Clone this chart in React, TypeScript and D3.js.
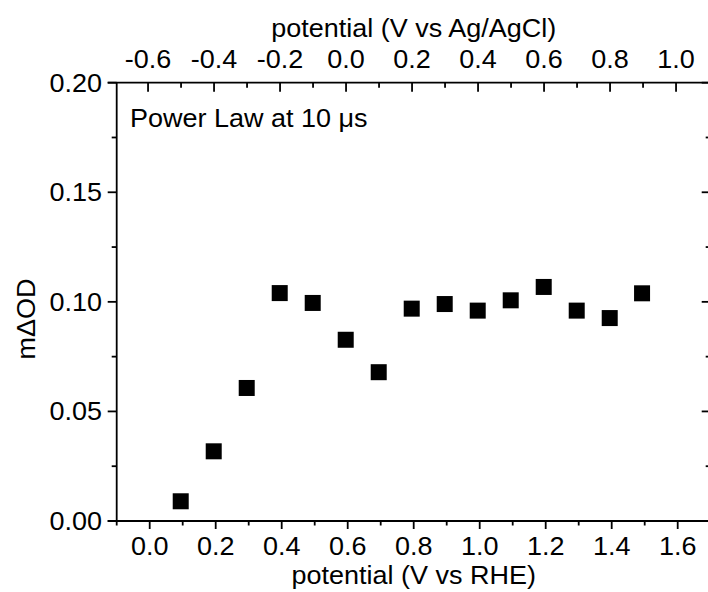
import React from "react";
import * as d3 from "d3";

// Data
const potentialRHE = [0.094, 0.194, 0.294, 0.394, 0.494, 0.594, 0.694, 0.794, 0.894, 0.994, 1.094, 1.194, 1.294, 1.394, 1.492];
const mDeltaOD = [0.009, 0.0318, 0.0607, 0.104, 0.0995, 0.0827, 0.0679, 0.0969, 0.099, 0.096, 0.1007, 0.1068, 0.096, 0.0926, 0.1039];
const bottomMajorTicks = [0.0, 0.2, 0.4, 0.6, 0.8, 1.0, 1.2, 1.4, 1.6];
const bottomMinorTicks = [-0.1, 0.1, 0.3, 0.5, 0.7, 0.9, 1.1, 1.3, 1.5, 1.7];
const topMajorTicks = [-0.6, -0.4, -0.2, 0.0, 0.2, 0.4, 0.6, 0.8, 1.0];
const topMinorTicks = [-0.5, -0.3, -0.1, 0.1, 0.3, 0.5, 0.7, 0.9, 1.1];
const yMajorTicks = [0.0, 0.05, 0.1, 0.15, 0.2];
const yMinorTicks = [0.025, 0.075, 0.125, 0.175];
const agAgClOffset = 0.595;

const W = 708;
const H = 592;
const left = 116.7;
const right = 710.7;
const top = 82.7;
const bottom = 521;
const FONT = "'Liberation Sans', Arial, sans-serif";
const SX = 1.08;
const FS = 25;

export default function App() {
  const x = d3.scaleLinear().domain([-0.1, 1.7]).range([left, right]);
  const xTop = d3.scaleLinear().domain([-0.1 - agAgClOffset, 1.7 - agAgClOffset]).range([left, right]);
  const y = d3.scaleLinear().domain([0, 0.2]).range([bottom, top]);
  const fmt1 = d3.format(".1f");
  const fmt2 = d3.format(".2f");
  const sq = 16;
  const sw = 1.8;

  const T = (props: { x: number; y: number; s: string; anchor?: string; sx?: number; fs?: number; rot?: number }) => (
    <text
      transform={`translate(${props.x},${props.y})${props.rot ? ` rotate(${props.rot})` : ""} scale(${props.sx ?? SX},1)`}
      textAnchor={props.anchor ?? "middle"}
      fontFamily={FONT}
      fontSize={props.fs ?? FS}
      fill="#000"
    >
      {props.s}
    </text>
  );

  return (
    <svg width={W} height={H} style={{ position: "absolute", left: 0, top: 0, display: "block", background: "#fff" }}>
      <rect x={0} y={0} width={W} height={H} fill="#fff" />
      {/* frame */}
      <g stroke="#000" strokeWidth={sw} fill="none">
        <line x1={left} x2={left} y1={top} y2={bottom} />
        <line x1={left - 9} x2={right} y1={bottom} y2={bottom} />
        <line x1={left - 9} x2={right} y1={top} y2={top} />
        <line x1={right} x2={right} y1={top} y2={bottom} />
        {/* bottom ticks */}
        {bottomMajorTicks.map((t) => (
          <line key={"bM" + t} x1={x(t)} x2={x(t)} y1={bottom} y2={bottom + 8} />
        ))}
        {bottomMinorTicks.map((t) => (
          <line key={"bm" + t} x1={x(t)} x2={x(t)} y1={bottom} y2={bottom + 4.5} />
        ))}
        {/* top ticks (inward) */}
        {topMajorTicks.map((t) => (
          <line key={"tM" + t} x1={xTop(t)} x2={xTop(t)} y1={top} y2={top + 9} />
        ))}
        {topMinorTicks.map((t) => (
          <line key={"tm" + t} x1={xTop(t)} x2={xTop(t)} y1={top} y2={top + 5} />
        ))}
        {/* left ticks (outward) */}
        {yMajorTicks.map((t) => (
          <line key={"lM" + t} x1={left - 9} x2={left} y1={y(t)} y2={y(t)} />
        ))}
        {yMinorTicks.map((t) => (
          <line key={"lm" + t} x1={left - 5} x2={left} y1={y(t)} y2={y(t)} />
        ))}
        {/* right ticks (inward) */}
        {yMajorTicks.map((t) => (
          <line key={"rM" + t} x1={right - 9} x2={right} y1={y(t)} y2={y(t)} />
        ))}
        {yMinorTicks.map((t) => (
          <line key={"rm" + t} x1={right - 5} x2={right} y1={y(t)} y2={y(t)} />
        ))}
      </g>

      {/* tick labels */}
      {bottomMajorTicks.map((t) => (
        <T key={"bl" + t} x={x(t)} y={555} s={fmt1(t)} />
      ))}
      {topMajorTicks.map((t) => (
        <T key={"tl" + t} x={xTop(t)} y={68} s={fmt1(t).replace("−", "-")} />
      ))}
      {yMajorTicks.map((t) => (
        <T key={"yl" + t} x={102} y={y(t) + 9} s={fmt2(t)} anchor="end" />
      ))}

      {/* axis titles */}
      <T x={(left + right) / 2} y={584} s="potential (V vs RHE)" />
      <T x={(left + right) / 2} y={37} s="potential (V vs Ag/AgCl)" />
      <T x={35} y={319} s="mΔOD" rot={-90} />

      {/* annotation */}
      <T x={130} y={127} s="Power Law at 10 μs" anchor="start" />

      {/* points */}
      {potentialRHE.map((p, i) => (
        <rect key={"pt" + i} x={x(p) - sq / 2} y={y(mDeltaOD[i]) - sq / 2} width={sq} height={sq} fill="#000" />
      ))}
    </svg>
  );
}
